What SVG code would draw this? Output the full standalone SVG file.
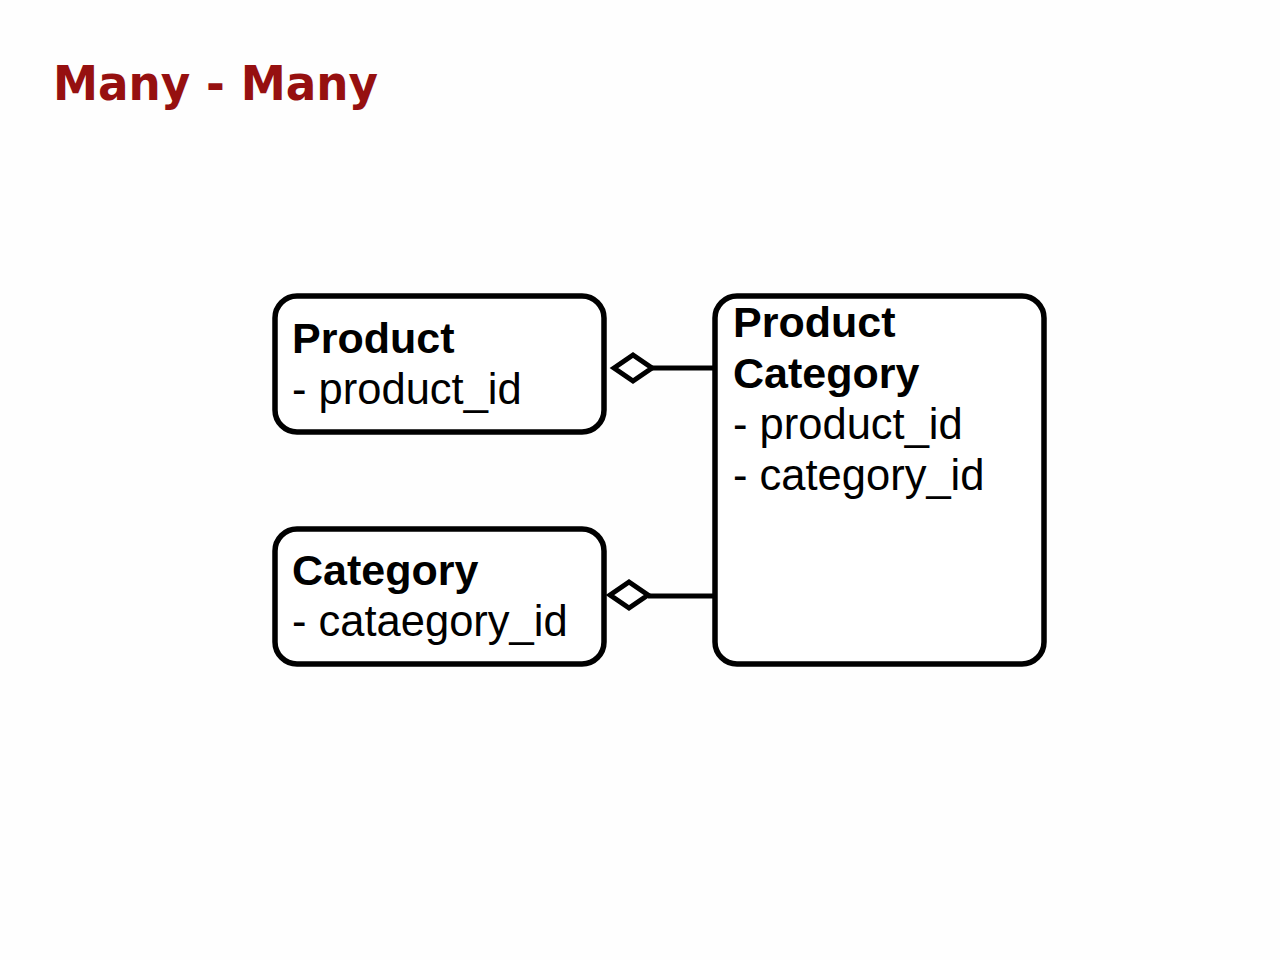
<svg xmlns="http://www.w3.org/2000/svg" width="1280" height="960" viewBox="0 0 1280 960">
  <style>
    .box { fill: #ffffff; stroke: #000000; stroke-width: 5.5; }
    .title { font-family: "DejaVu Sans", "Liberation Sans", sans-serif; font-weight: bold; font-size: 48px; fill: #961010; }
    .name { font-family: "Liberation Sans", Arial, sans-serif; font-weight: bold; font-size: 43px; fill: #000000; }
    .attr { font-family: "Liberation Sans", Arial, sans-serif; font-size: 43.5px; fill: #000000; }
    .conn { fill: none; stroke: #000000; stroke-width: 5; }
    .diamond { fill: #ffffff; stroke: #000000; stroke-width: 5; stroke-linejoin: miter; }
  </style>
  <rect x="0" y="0" width="1280" height="960" fill="#fefefe"/>
  <text class="title" x="53" y="100" textLength="325" lengthAdjust="spacingAndGlyphs">Many - Many</text>

  <g id="connectors">
    <line class="conn" x1="652" y1="368" x2="715" y2="368"/>
    <polygon class="diamond" points="614,368 633,355 652,368 633,381"/>
    <line class="conn" x1="648" y1="596" x2="715" y2="596"/>
    <polygon class="diamond" points="610,595 629,582 648,595 629,608"/>
  </g>

  <g id="product">
    <rect class="box" x="275" y="296" width="329" height="136" rx="22" ry="22"/>
    <text class="name" x="292" y="353">Product</text>
    <text class="attr" x="292" y="404">- product_id</text>
  </g>

  <g id="category">
    <rect class="box" x="275" y="529" width="329" height="135" rx="22" ry="22"/>
    <text class="name" x="292" y="585">Category</text>
    <text class="attr" x="292" y="636">- cataegory_id</text>
  </g>

  <g id="product-category">
    <rect class="box" x="715" y="296" width="329" height="368" rx="22" ry="22"/>
    <text class="name" x="733" y="337">Product</text>
    <text class="name" x="733" y="388">Category</text>
    <text class="attr" x="733" y="439">- product_id</text>
    <text class="attr" x="733" y="490">- category_id</text>
  </g>
</svg>
